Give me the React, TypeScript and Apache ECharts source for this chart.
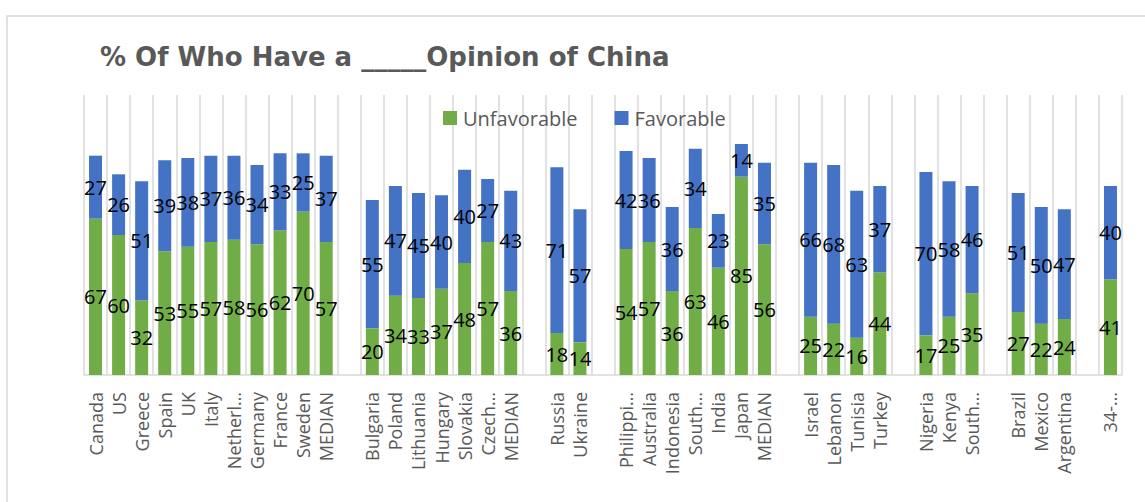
import React, { useEffect, useRef } from "react";
import * as echarts from "echarts";

const categories: string[] = [
  "Canada", "US", "Greece", "Spain", "UK", "Italy", "Netherl…", "Germany", "France", "Sweden", "MEDIAN", "",
  "Bulgaria", "Poland", "Lithuania", "Hungary", "Slovakia", "Czech…", "MEDIAN", "",
  "Russia", "Ukraine", "",
  "Philippi…", "Australia", "Indonesia", "South…", "India", "Japan", "MEDIAN", "",
  "Israel", "Lebanon", "Tunisia", "Turkey", "",
  "Nigeria", "Kenya", "South…", "",
  "Brazil", "Mexico", "Argentina", "",
  "34-…",
];

const unfavorable: (number | null)[] = [
  67, 60, 32, 53, 55, 57, 58, 56, 62, 70, 57, null,
  20, 34, 33, 37, 48, 57, 36, null,
  18, 14, null,
  54, 57, 36, 63, 46, 85, 56, null,
  25, 22, 16, 44, null,
  17, 25, 35, null,
  27, 22, 24, null,
  41,
];

const favorable: (number | null)[] = [
  27, 26, 51, 39, 38, 37, 36, 34, 33, 25, 37, null,
  55, 47, 45, 40, 40, 27, 43, null,
  71, 57, null,
  42, 36, 36, 34, 23, 14, 35, null,
  66, 68, 63, 37, null,
  70, 58, 46, null,
  51, 50, 47, null,
  40,
];

const titleText = "% Of Who Have a _____Opinion of China";
const seriesNames = ["Unfavorable", "Favorable"];

export default function App() {
  const ref = useRef<HTMLDivElement>(null);
  useEffect(() => {
    if (!ref.current) return;
    const chart = echarts.init(ref.current, undefined, { renderer: "svg" });
    const labelStyle = {
      show: true,
      position: "inside" as const,
      color: "#000000",
      fontSize: 20,
      fontFamily: "Open Sans",
    };
    chart.setOption({
      animation: false,
      backgroundColor: "#ffffff",
      title: {
        text: titleText,
        left: 100,
        top: 44,
        padding: 0,
        textStyle: {
          fontFamily: "DejaVu Sans",
          fontWeight: "bold",
          fontSize: 26,
          color: "#595959",
        },
      },
      legend: {
        data: seriesNames,
        left: 443,
        top: 108,
        padding: 0,
        itemWidth: 14,
        itemHeight: 14,
        itemGap: 37,
        icon: "rect",
        textStyle: {
          fontFamily: "Open Sans",
          fontSize: 20,
          color: "#595959",
          padding: [0, 0, 0, 1],
        },
      },
      graphic: [
        {
          type: "rect",
          shape: { x: 7, y: 16, width: 1300, height: 700 },
          style: { fill: "none", stroke: "#D9D9D9", lineWidth: 1.5 },
          silent: true,
          z: -10,
        },
      ],
      grid: { left: 84, right: 23, top: 95, bottom: 127 },
      xAxis: {
        type: "category",
        data: categories,
        boundaryGap: true,
        axisLine: { show: true, lineStyle: { color: "#D9D9D9", width: 1.5 } },
        axisTick: { show: false },
        splitLine: { show: true, interval: 0, lineStyle: { color: "#D9D9D9", width: 1.5 } },
        axisLabel: {
          interval: 0,
          rotate: 90,
          margin: 17,
          fontFamily: "Open Sans",
          fontSize: 18,
          color: "#595959",
        },
      },
      yAxis: {
        type: "value",
        min: 0,
        max: 120,
        show: false,
        splitLine: { show: false },
      },
      series: [
        {
          name: seriesNames[0],
          type: "bar",
          stack: "total",
          data: unfavorable,
          barWidth: 13,
          itemStyle: { color: "#70AD47" },
          label: labelStyle,
        },
        {
          name: seriesNames[1],
          type: "bar",
          stack: "total",
          data: favorable,
          barWidth: 13,
          itemStyle: { color: "#4472C4" },
          label: labelStyle,
        },
      ],
    });
    return () => chart.dispose();
  }, []);
  return (
    <div
      ref={ref}
      style={{ position: "fixed", left: 0, top: 0, width: 1145, height: 502, background: "#fff" }}
    />
  );
}
